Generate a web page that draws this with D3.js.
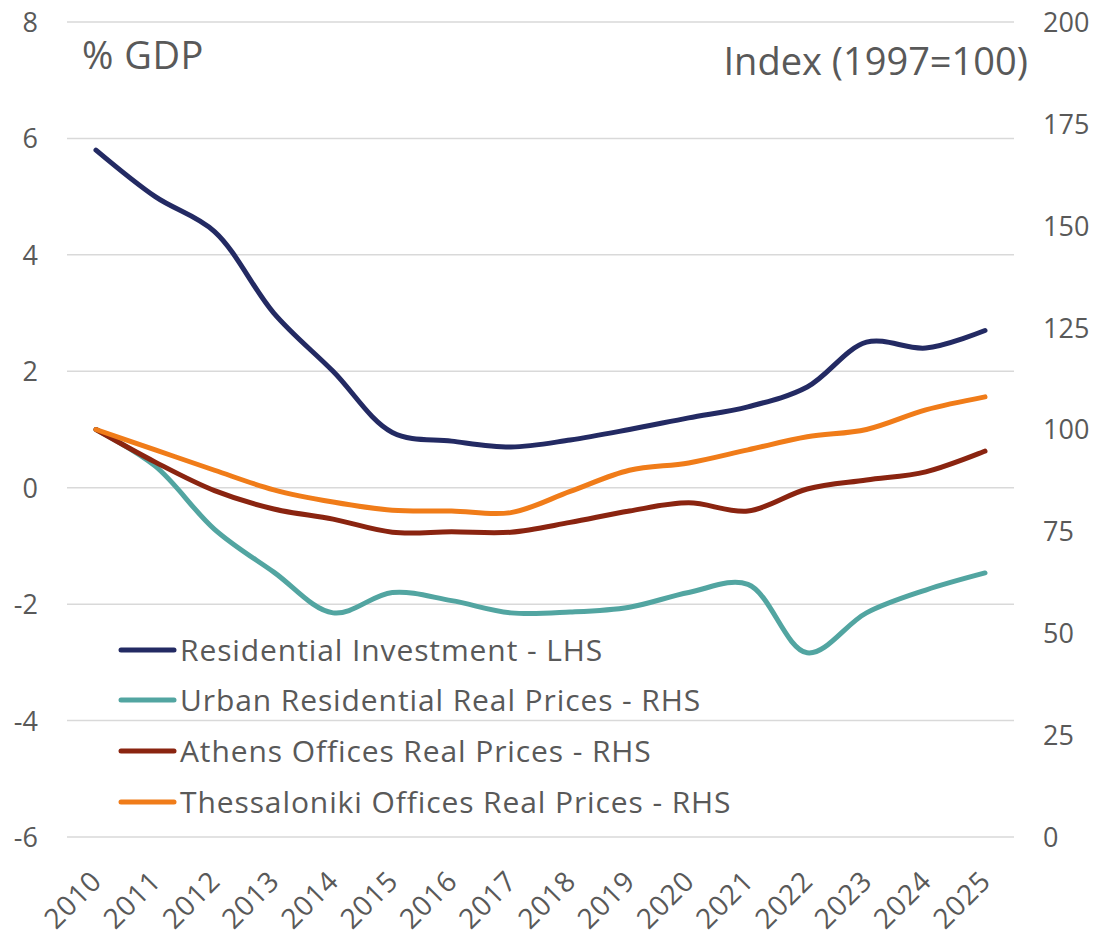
<!DOCTYPE html>
<html>
<head>
<meta charset="utf-8">
<script src="https://cdn.jsdelivr.net/npm/d3@7"></script>
<style>
  html, body { margin: 0; padding: 0; background: #fff; }
  svg { display: block; }
  text { font-family: "Open Sans", "Lato", sans-serif; fill: #595959; }
</style>
</head>
<body>
<svg id="chart" width="1100" height="940"></svg>
<script>
const years = [2010, 2011, 2012, 2013, 2014, 2015, 2016, 2017, 2018, 2019, 2020, 2021, 2022, 2023, 2024, 2025];
const residentialInvestment = [5.8, 5.0, 4.4, 3.0, 2.0, 0.95, 0.8, 0.7, 0.82, 1.0, 1.2, 1.39, 1.73, 2.5, 2.4, 2.7];
const urbanResidential = [100, 91, 75.5, 65, 55, 60, 58, 55, 55.2, 56.4, 60, 62, 45.2, 55, 60.6, 64.8];
const athensOffices = [100, 92, 85, 80.5, 78, 74.8, 74.9, 74.8, 77.2, 80, 82, 80, 85.4, 87.6, 89.6, 94.7];
const thessOffices = [100, 95, 90, 85.2, 82.2, 80.2, 80, 79.6, 84.8, 90, 91.8, 95, 98.2, 100, 104.8, 108];
const leftTicks = [-6, -4, -2, 0, 2, 4, 6, 8];
const rightTicks = [0, 25, 50, 75, 100, 125, 150, 175, 200];
const seriesNames = ["Residential Investment - LHS", "Urban Residential Real Prices - RHS", "Athens Offices Real Prices - RHS", "Thessaloniki Offices Real Prices - RHS"];
const seriesColors = ["#232a63", "#52a5a1", "#8a2410", "#f07c19"];

const svg = d3.select("#chart");
const x = d3.scaleLinear().domain([2010, 2025]).range([96, 985]);
const yL = d3.scaleLinear().domain([-6, 8]).range([837, 22]);
const yR = d3.scaleLinear().domain([0, 200]).range([837, 22]);

// gridlines
svg.append("g").selectAll("line").data(leftTicks).join("line")
  .attr("x1", 67).attr("x2", 1014)
  .attr("y1", d => yL(d)).attr("y2", d => yL(d))
  .attr("stroke", "#d9d9d9").attr("stroke-width", 1.5);

// left axis
const axL = d3.axisLeft(yL).tickValues(leftTicks).tickSize(0).tickPadding(0).tickFormat(d => d);
const gL = svg.append("g").attr("transform", "translate(38,0)").call(axL);
gL.select(".domain").remove();
gL.selectAll("text").attr("font-size", 27).attr("dy", "0.35em").style("font-family", "'Open Sans', sans-serif").attr("fill", "#595959");

// right axis
const axR = d3.axisRight(yR).tickValues(rightTicks).tickSize(0).tickPadding(0).tickFormat(d => d);
const gR = svg.append("g").attr("transform", "translate(1043,0)").call(axR);
gR.select(".domain").remove();
gR.selectAll("text").attr("font-size", 27).attr("dy", "0.35em").style("font-family", "'Open Sans', sans-serif").attr("fill", "#595959");

// x axis labels
const axX = d3.axisBottom(x).tickValues(years).tickSize(0).tickPadding(0).tickFormat(d => d);
const gX = svg.append("g").attr("transform", "translate(0,837)").call(axX);
gX.select(".domain").remove();
gX.selectAll("text")
  .attr("font-size", 28)
  .style("font-family", "'Open Sans', sans-serif")
  .style("letter-spacing", "0.8px")
  .attr("fill", "#595959")
  .attr("text-anchor", "end")
  .attr("dy", "0.35em")
  .attr("y", 0)
  .attr("transform", "translate(0,39) rotate(-45)");

// titles
svg.append("text").attr("x", 82).attr("y", 69).attr("font-size", 38).style("letter-spacing", "0.5px").text("% GDP");
svg.append("text").attr("x", 1028).attr("y", 75).attr("font-size", 38).attr("text-anchor", "end").text("Index (1997=100)");

// lines
const curve = d3.curveCatmullRom.alpha(0.5);
const lineL = d3.line().x((d, i) => x(years[i])).y(d => yL(d)).curve(curve);
const lineR = d3.line().x((d, i) => x(years[i])).y(d => yR(d)).curve(curve);

const drawOrder = [
  {data: urbanResidential, gen: lineR, c: seriesColors[1]},
  {data: athensOffices, gen: lineR, c: seriesColors[2]},
  {data: thessOffices, gen: lineR, c: seriesColors[3]},
  {data: residentialInvestment, gen: lineL, c: seriesColors[0]}
];
svg.append("g").selectAll("path").data(drawOrder).join("path")
  .attr("d", d => d.gen(d.data))
  .attr("fill", "none")
  .attr("stroke", d => d.c)
  .attr("stroke-width", 5)
  .attr("stroke-linecap", "round")
  .attr("stroke-linejoin", "round");

// legend
const legendY = [650, 700, 751, 802];
const lg = svg.append("g").selectAll("g").data(seriesNames).join("g")
  .attr("transform", (d, i) => `translate(0,${legendY[i]})`);
lg.append("line").attr("x1", 121).attr("x2", 174).attr("y1", 0).attr("y2", 0)
  .attr("stroke", (d, i) => seriesColors[i]).attr("stroke-width", 5).attr("stroke-linecap", "round");
lg.append("text").attr("x", 180).attr("y", 0).attr("dy", "0.35em").attr("font-size", 30)
  .style("letter-spacing", "0.9px").text(d => d);
</script>
</body>
</html>
